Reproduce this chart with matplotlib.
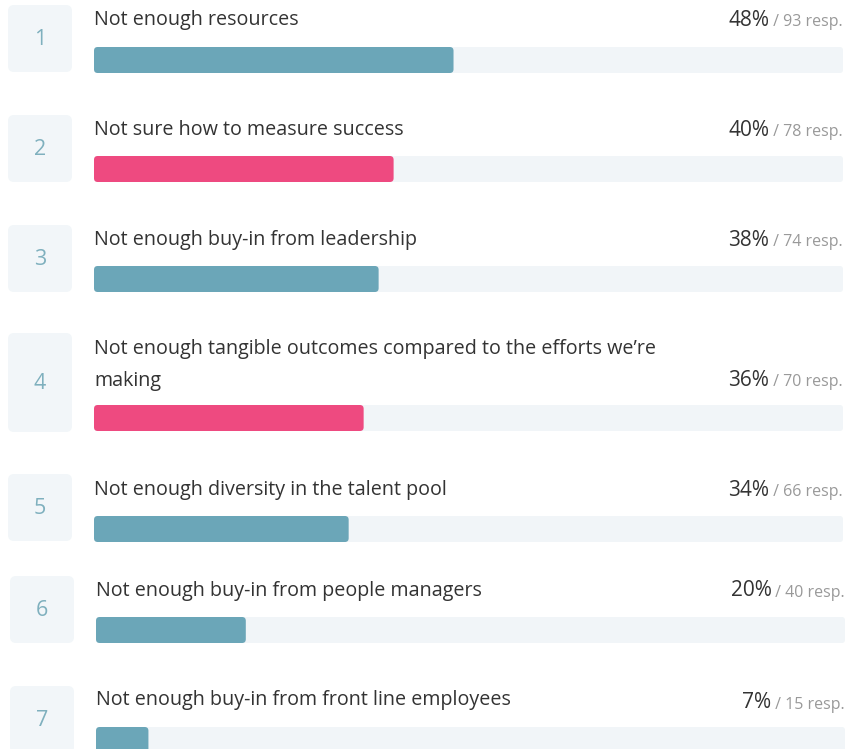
import matplotlib
matplotlib.use("Agg")
import matplotlib.pyplot as plt
from matplotlib.patches import FancyBboxPatch

# Survey results: biggest obstacles
ranks = [1, 2, 3, 4, 5, 6, 7]
labels = [
    "Not enough resources",
    "Not sure how to measure success",
    "Not enough buy-in from leadership",
    "Not enough tangible outcomes compared to the efforts we\u2019re\nmaking",
    "Not enough diversity in the talent pool",
    "Not enough buy-in from people managers",
    "Not enough buy-in from front line employees",
]
percent = [48, 40, 38, 36, 34, 20, 7]
responses = [93, 78, 74, 70, 66, 40, 15]
highlight = [False, True, False, True, False, False, False]

# Row layout in pixels (top-down)
W, H = 848, 749
box_top = [5, 115, 225, 333, 474, 576, 686]
box_h = [67, 67, 67, 99, 67, 67, 67]
label_y = [20, 130, 240, 365, 490, 591, 700]
pct_y = [20, 130, 240, 380, 490, 591, 703]
bar_top = [47, 156, 266, 405, 516, 617, 727]
x_shift = [0, 0, 0, 0, 0, 2, 2]
bar_h = 26
track_x0, track_w = 94, 749

TEAL = "#6ba6b8"
PINK = "#ee4a80"
TRACK = "#f1f5f8"
BOX = "#f2f6f9"
NUM = "#7fb0be"
TXT = "#333333"
SUB = "#999999"

plt.rcParams["font.family"] = ["Open Sans", "DejaVu Sans"]

fig = plt.figure(figsize=(W / 100, H / 100), dpi=100)
fig.patch.set_facecolor("white")
bg = fig.add_axes([0, 0, 1, 1])
bg.set_xlim(0, W)
bg.set_ylim(H, 0)
bg.axis("off")

for i in range(len(ranks)):
    dx = x_shift[i]
    # rank box
    bg.add_patch(FancyBboxPatch((8 + dx, box_top[i]), 64, box_h[i],
                                boxstyle="round,pad=0,rounding_size=6",
                                fc=BOX, ec="none"))
    bg.text(40 + dx, box_top[i] + box_h[i] / 2 + 1, str(ranks[i]),
            ha="center", va="center", fontsize=15.5, color=NUM)
    # label
    bg.text(track_x0 + dx, label_y[i], labels[i], ha="left", va="center",
            fontsize=14.2, color=TXT, linespacing=1.8)
    # value text
    r = bg.text(track_x0 + track_w + dx, pct_y[i] + 2, f" / {responses[i]} resp.",
                ha="right", va="center", fontsize=11.5, color=SUB)
    fig.canvas.draw()
    bb = r.get_window_extent()
    x_left = bg.transData.inverted().transform((bb.x0, bb.y0))[0]
    bg.text(x_left, pct_y[i], f"{percent[i]}%", ha="right", va="center",
            fontsize=15, color=TXT)

    # bar track + value bar on a 0-100 scale
    ax = fig.add_axes([(track_x0 + dx) / W, 1 - (bar_top[i] + bar_h) / H,
                       track_w / W, bar_h / H])
    ax.set_xlim(0, 100)
    ax.set_ylim(0, 1)
    ax.axis("off")
    ax.patch.set_alpha(0)
    asp = (1 / bar_h) / (100 / track_w)
    ax.add_patch(FancyBboxPatch((0, 0), 100, 1,
                                boxstyle="round,pad=0,rounding_size=0.4",
                                mutation_aspect=asp, fc=TRACK, ec="none",
                                clip_on=False))
    ax.add_patch(FancyBboxPatch((0, 0), percent[i], 1,
                                boxstyle="round,pad=0,rounding_size=0.5",
                                mutation_aspect=asp,
                                fc=PINK if highlight[i] else TEAL, ec="none",
                                clip_on=False))

fig.savefig("out.png", dpi=100, facecolor="white")
